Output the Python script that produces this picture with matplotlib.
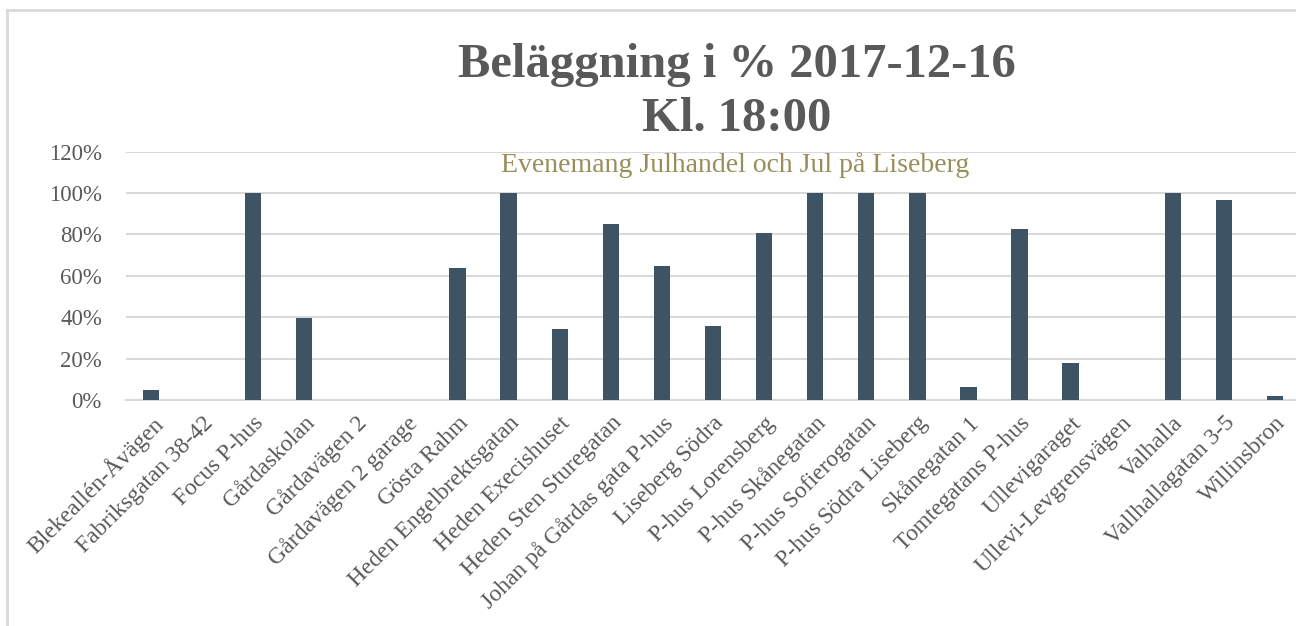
import matplotlib
matplotlib.use("Agg")
import matplotlib.pyplot as plt
from matplotlib.ticker import PercentFormatter
from matplotlib.lines import Line2D

# data
platser = ["Blekeallén-Åvägen", "Fabriksgatan 38-42", "Focus P-hus", "Gårdaskolan",
           "Gårdavägen 2", "Gårdavägen 2 garage", "Gösta Rahm", "Heden Engelbrektsgatan",
           "Heden Execishuset", "Heden Sten Sturegatan", "Johan på Gårdas gata P-hus",
           "Liseberg Södra", "P-hus Lorensberg", "P-hus Skånegatan", "P-hus Sofierogatan",
           "P-hus Södra Liseberg", "Skånegatan 1", "Tomtegatans P-hus", "Ullevigaraget",
           "Ullevi-Levgrensvägen", "Valhalla", "Vallhallagatan 3-5", "Willinsbron"]
belaggning = [0.05, 0.0, 1.0, 0.395, 0.0, 0.0, 0.64, 1.0, 0.342, 0.852, 0.647, 0.357,
              0.807, 1.0, 1.0, 1.0, 0.063, 0.825, 0.18, 0.0, 1.0, 0.965, 0.019]
yticks = [0, 0.2, 0.4, 0.6, 0.8, 1.0, 1.2]

plt.rcParams["font.family"] = ["Liberation Serif", "DejaVu Serif"]
grey = "#595959"

fig = plt.figure(figsize=(12.96, 6.26), dpi=100)
ax = fig.add_axes([125.5 / 1296, 226 / 626, 1175 / 1296, 248.4 / 626])

x = range(len(platser))
ax.bar(x, belaggning, width=0.32, color="#3E5363", zorder=3)
ax.set_xlim(-0.5, len(platser) - 0.5)
ax.set_ylim(0, 1.2)
ax.set_yticks(yticks)
ax.yaxis.set_major_formatter(PercentFormatter(1.0, decimals=0))
ax.grid(axis="y", color="#D9D9D9", linewidth=1.5, zorder=0)
for s in ["top", "right", "left"]:
    ax.spines[s].set_visible(False)
ax.spines["bottom"].set_color("#D9D9D9")
ax.spines["bottom"].set_linewidth(1.5)
ax.tick_params(axis="both", length=0, labelsize=16.5, colors=grey)
ax.tick_params(axis="y", pad=17)
ax.set_xticks(list(x))
ax.set_xticklabels(platser, rotation=45, ha="right", va="top",
                   rotation_mode="anchor", fontsize=17, color=grey)
ax.tick_params(axis="x", pad=9)

ax.text(0.519, 0.946, "Evenemang Julhandel och Jul på Liseberg", transform=ax.transAxes,
        ha="center", va="center", fontsize=20, color="#998E5A")

fig.text(737 / 1296, 1 - 65 / 626, "Beläggning i % 2017-12-16", ha="center", va="center",
         fontsize=35, fontweight="bold", color=grey)
fig.text(737 / 1296, 1 - 119 / 626, "Kl. 18:00", ha="center", va="center",
         fontsize=35, fontweight="bold", color=grey)

# chart frame (left and top edges visible)
fig.add_artist(Line2D([7 / 1296, 7 / 1296], [1 - 10 / 626, 0], color="#D9D9D9",
                      linewidth=2, transform=fig.transFigure))
fig.add_artist(Line2D([7 / 1296, 1], [1 - 10 / 626, 1 - 10 / 626], color="#D9D9D9",
                      linewidth=2, transform=fig.transFigure))

fig.savefig("out.png", dpi=100)
